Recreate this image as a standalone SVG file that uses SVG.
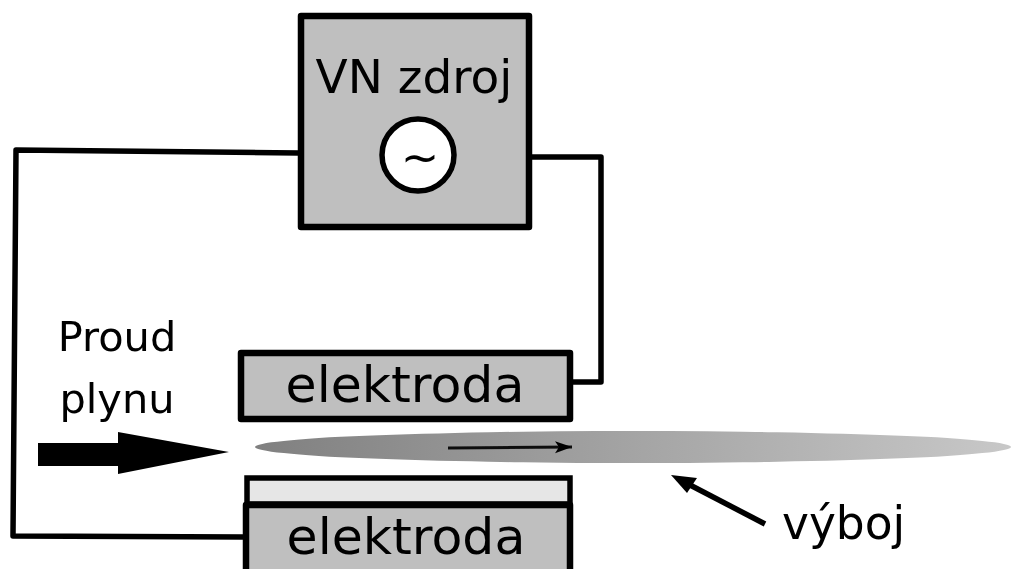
<svg xmlns="http://www.w3.org/2000/svg" width="1011" height="569" viewBox="0 0 1011 569">
<style>
.box{fill:#bfbfbf;stroke:#000;stroke-width:6.5;stroke-linejoin:round}
.wire{fill:none;stroke:#000;stroke-width:5.5;stroke-linejoin:round}
text{font-family:"DejaVu Sans",sans-serif;fill:#000}
.el{font-size:50.5px;text-anchor:middle}
</style>
<defs>
<linearGradient id="g" x1="255" x2="1011" y1="0" y2="0" gradientUnits="userSpaceOnUse">
<stop offset="0" stop-color="#808080"/><stop offset="1" stop-color="#c8c8c8"/>
</linearGradient>
<filter id="soft" x="-2%" y="-2%" width="104%" height="104%"><feGaussianBlur stdDeviation="0.7"/></filter>
<marker id="small" markerUnits="userSpaceOnUse" markerWidth="18" markerHeight="14" refX="17" refY="7" orient="auto"><path d="M0 1L17 7L0 13L4 7Z" fill="#000"/></marker>
</defs>
<rect width="1011" height="569" fill="#fff"/>
<g filter="url(#soft)">
<g id="connectors">
<path class="wire" d="M299 153L16 150L13 536L244 537"/>
<path class="wire" d="M532 157L601 157L601 382L572 382"/>
</g>
<g id="vyboj">
<ellipse cx="633" cy="447" rx="378" ry="16" fill="url(#g)"/>
<path d="M448 448L572 447" fill="none" stroke="#111" stroke-width="3" marker-end="url(#small)"/>
</g>
<g id="zdroj">
<rect class="box" x="301" y="16" width="228" height="211"/>
<text x="414" y="93" font-size="47" text-anchor="middle">VN zdroj</text>
<circle cx="418" cy="155" r="36" fill="#fff" stroke="#000" stroke-width="5.5"/>
<text x="420" y="173" font-size="46" text-anchor="middle">~</text>
</g>
<g id="elektroda-horni">
<rect class="box" x="241" y="353" width="329" height="66"/>
<text class="el" x="405" y="402">elektroda</text>
</g>
<g id="dielektrikum">
<rect x="247" y="478" width="323" height="26" fill="#e6e6e6" stroke="#000" stroke-width="5.5"/>
</g>
<g id="elektroda-dolni">
<rect class="box" x="246" y="505" width="324" height="72"/>
<text class="el" x="406" y="554">elektroda</text>
</g>
<g id="proud">
<text x="117" y="351" font-size="41.5" text-anchor="middle">Proud</text>
<text x="117" y="413" font-size="41.5" text-anchor="middle">plynu</text>
<path d="M38 443H118V432L229 452L118 474V466H38Z" fill="#000"/>
</g>
<g id="vyboj-popis">
<path d="M765 524L690 485" fill="none" stroke="#000" stroke-width="5.5"/>
<path d="M671 475L697 478L687 493Z" fill="#000"/>
<text x="782" y="539" font-size="45.5">výboj</text>
</g>
</g>
</svg>
